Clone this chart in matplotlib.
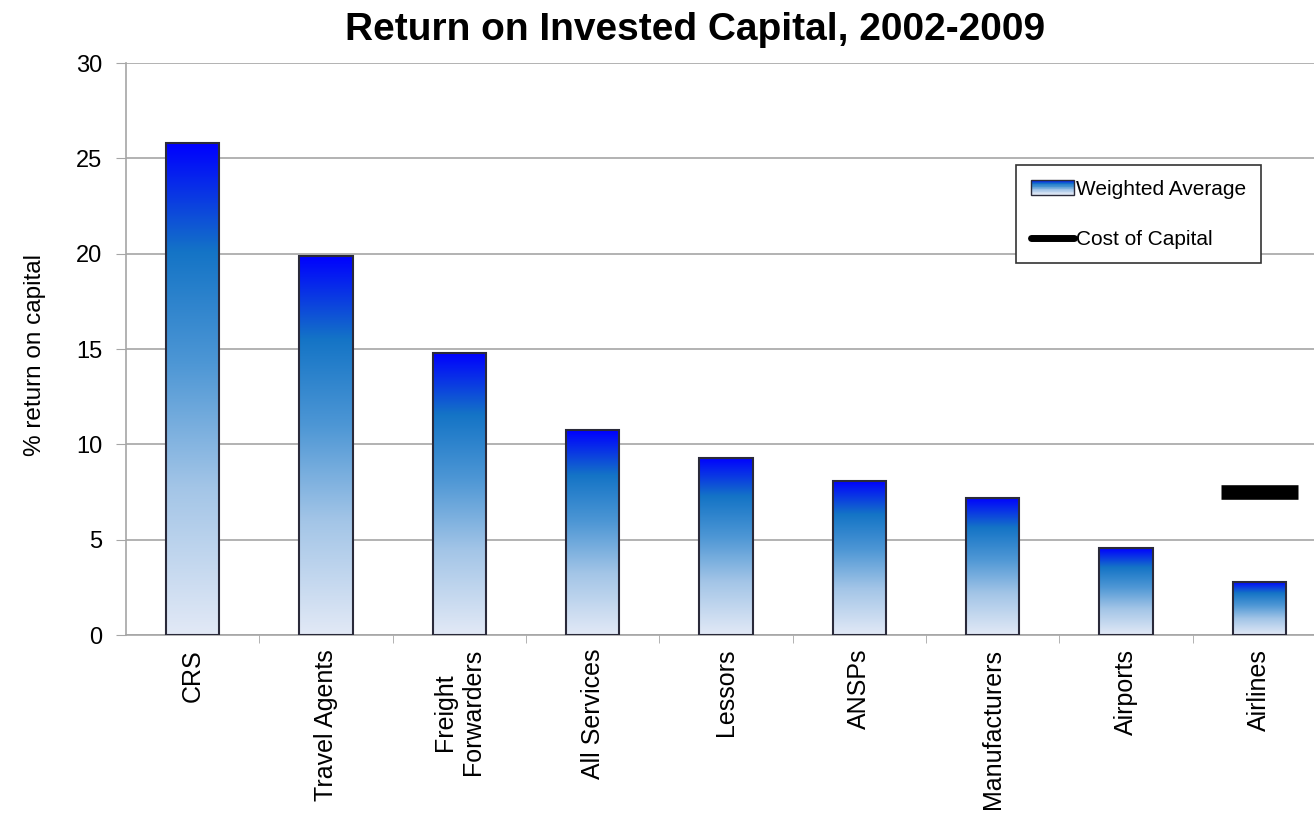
import numpy as np
import matplotlib
matplotlib.use('Agg')
import matplotlib.pyplot as plt
from matplotlib.colors import LinearSegmentedColormap
from matplotlib.patches import Rectangle, Patch
from matplotlib.lines import Line2D
from matplotlib.legend_handler import HandlerBase

plt.rcParams['font.family'] = ['Liberation Sans', 'DejaVu Sans']

# Data
categories = ['CRS', 'Travel Agents', 'Freight\nForwarders', 'All Services', 'Lessors',
              'ANSPs', 'Manufacturers', 'Airports', 'Airlines']
weighted_average = [25.8, 19.9, 14.8, 10.75, 9.3, 8.1, 7.2, 4.55, 2.8]
cost_of_capital = [np.nan, np.nan, np.nan, np.nan, np.nan, np.nan, np.nan, np.nan, 7.5]
y_ticks = [0, 5, 10, 15, 20, 25, 30]

# Blue gradient (bottom pale -> top pure blue)
cmap = LinearSegmentedColormap.from_list(
    'roic', [(0.0, '#e2e9f6'), (0.3, '#a3c5e7'), (0.55, '#4e97d5'),
             (0.78, '#1474c6'), (1.0, '#0000ff')])


class GradientHandler(HandlerBase):
    def create_artists(self, legend, orig_handle, xdescent, ydescent,
                       width, height, fontsize, trans):
        n = 20
        arts = []
        for i in range(n):
            arts.append(Rectangle((-xdescent, -ydescent + i * height / n), width, height / n,
                                  facecolor=cmap(i / (n - 1)), edgecolor='none', transform=trans))
        arts.append(Rectangle((-xdescent, -ydescent), width, height, fill=False,
                              edgecolor='#2a2a3a', lw=1, transform=trans))
        return arts


fig = plt.figure(figsize=(13.14, 8.15), dpi=100)
ax = fig.add_axes([126 / 1314, 1 - 635 / 815, 1200 / 1314, (635 - 63) / 815])

x = np.arange(len(categories))
bar_w = 0.4
grad = np.linspace(0, 1, 256).reshape(-1, 1)

# Gradient fills
for xi, h in zip(x, weighted_average):
    ax.imshow(grad, extent=(xi - bar_w / 2, xi + bar_w / 2, 0, h), cmap=cmap,
              origin='lower', aspect='auto', zorder=2, interpolation='bilinear')
ax.bar(x, weighted_average, width=bar_w, fill=False, edgecolor='#2a2a3a', linewidth=1.5, zorder=3)

# Cost of capital marker
for xi, c in zip(x, cost_of_capital):
    if not np.isnan(c):
        ax.hlines(c, xi - 0.29, xi + 0.29, colors='black', linewidth=10.5, zorder=4)

ax.set_xlim(-0.5, len(categories) - 0.5)
ax.set_ylim(0, 30)
ax.set_yticks(y_ticks)
ax.set_yticklabels([str(t) for t in y_ticks], fontsize=17)
ax.yaxis.grid(True, color='#a6a6a6', linewidth=1.2, zorder=0)
ax.set_axisbelow(True)

ax.set_xticks(x)
ax.set_xticklabels(categories, rotation=90, fontsize=18, ha='center', va='top',
                   multialignment='center')
ax.set_xticks(np.arange(0.5, len(categories) - 0.5, 1), minor=True)
ax.tick_params(axis='x', which='major', length=0, pad=10)
ax.tick_params(axis='x', which='minor', length=6, color='#a6a6a6', direction='out')
ax.tick_params(axis='y', length=7, color='#a6a6a6', pad=10)

for s in ['top', 'right']:
    ax.spines[s].set_visible(False)
for s in ['left', 'bottom']:
    ax.spines[s].set_color('#a6a6a6')
    ax.spines[s].set_linewidth(1.2)

fig.text(0.529, 1 - 12 / 815, 'Return on Invested Capital, 2002-2009', fontsize=28,
         fontweight='bold', ha='center', va='top')
fig.text(35 / 1314, 1 - 355 / 815, '% return on capital', fontsize=17.5, rotation=90,
         ha='center', va='center')

handles = [Patch(label='Weighted Average'),
           Line2D([0], [0], color='black', lw=5, solid_capstyle='round', label='Cost of Capital')]
leg = ax.legend(handles=handles, loc='upper left', bbox_to_anchor=(1016 / 1314, 1 - 165 / 815),
                bbox_transform=fig.transFigure, fontsize=15, frameon=True, fancybox=False,
                edgecolor='#333333', framealpha=1, borderpad=0.7, labelspacing=1.5,
                handlelength=2.1, handletextpad=0.1, borderaxespad=0,
                handler_map={Patch: GradientHandler()})
leg.get_frame().set_linewidth(1.2)

fig.savefig('out.png', dpi=100)
